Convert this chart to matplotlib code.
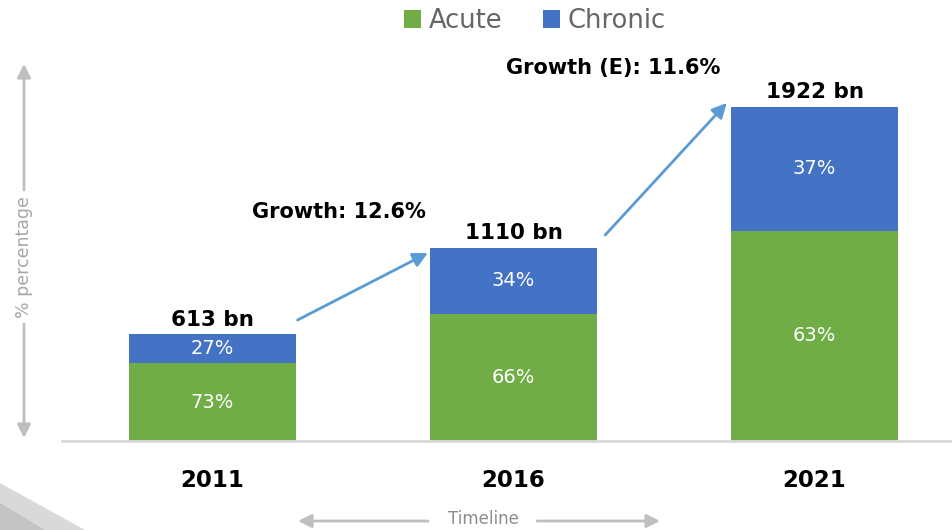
import numpy as np
import matplotlib.pyplot as plt
from matplotlib.patches import Polygon

# 数据
years = ['2011', '2016', '2021']
totals = [613, 1110, 1922]            # bn
acute_pct = [73, 66, 63]
chronic_pct = [27, 34, 37]
growth_labels = ['Growth: 12.6%', 'Growth (E): 11.6%']

green = '#70ad47'
blue = '#4472c4'
arrow_blue = '#5b9bd5'
gray_arrow = '#bfbfbf'

plt.rcParams['font.family'] = ['DejaVu Sans']

W, H = 953, 530
fig = plt.figure(figsize=(W / 100, H / 100), dpi=100)

# 坐标轴放在像素位置：底线 y=441px，左边 62px
left_px, base_px, top_px = 62, 441, 60
ax = fig.add_axes([left_px / W, (H - base_px) / H, (W - left_px) / W, (base_px - top_px) / H])

x = np.arange(len(years))
acute = np.array(totals) * np.array(acute_pct) / 100
chronic = np.array(totals) * np.array(chronic_pct) / 100
bw = 0.555

ax.bar(x, acute, bw, color=green, label='Acute', zorder=2)
ax.bar(x, chronic, bw, bottom=acute, color=blue, label='Chronic', zorder=2)

ax.set_xlim(-0.5, 2.46)
ax.set_ylim(0, 2192)

# 百分比标签
for i in range(len(years)):
    ax.text(x[i], acute[i] / 2, f'{acute_pct[i]}%', color='white', ha='center',
            va='center', fontsize=14)
    ax.text(x[i], acute[i] + chronic[i] / 2, f'{chronic_pct[i]}%', color='white',
            ha='center', va='center', fontsize=14)
    ax.text(x[i], totals[i] + 28, f'{totals[i]} bn', ha='center', va='bottom',
            fontsize=15.5, fontweight='bold', color='black')

# 增长箭头
starts = [(x[0] + bw / 2 + 0.005, totals[0] + 83), (x[1] + bw / 2 + 0.027, totals[1] + 75)]
ends = [(x[1] - bw / 2 - 0.007, totals[1] - 28), (x[2] - bw / 2 - 0.014, totals[2] + 23)]
for s, e in zip(starts, ends):
    ax.annotate('', xy=e, xytext=s,
                arrowprops=dict(arrowstyle='-|>', color=arrow_blue, lw=2,
                                mutation_scale=22, shrinkA=0, shrinkB=0))
ax.text(0.42, 1320, growth_labels[0], ha='center', va='center', fontsize=15,
        fontweight='bold')
ax.text(1.33, 2145, growth_labels[1], ha='center', va='center', fontsize=15,
        fontweight='bold')

# 轴样式
for sp in ['top', 'right', 'left']:
    ax.spines[sp].set_visible(False)
ax.spines['bottom'].set_color('#d9d9d9')
ax.spines['bottom'].set_linewidth(2)
ax.set_yticks([])
ax.set_xticks(x)
ax.set_xticklabels(years, fontsize=16.5, fontweight='bold')
ax.tick_params(axis='x', length=0, pad=20)

# 图例
ax.legend(loc='upper center', bbox_to_anchor=((535 - left_px) / (W - left_px), 1.197), ncol=2,
          frameon=False, fontsize=18.5, handlelength=0.65, handleheight=0.65,
          handletextpad=0.3, columnspacing=1.6, labelcolor='#666666')

# 左侧纵向箭头 "% percentage"
def fpt(px, py):
    return (px / W, 1 - py / H)

def gray_arrow_fig(p0, p1):
    ax.annotate('', xy=fpt(*p1), xytext=fpt(*p0), xycoords='figure fraction',
                textcoords='figure fraction',
                arrowprops=dict(arrowstyle='-|>', color=gray_arrow, lw=2,
                                mutation_scale=20, shrinkA=0, shrinkB=0))

gray_arrow_fig((24, 190), (24, 64))
gray_arrow_fig((24, 324), (24, 438))
fig.text(*fpt(24, 257), '% percentage', rotation=90, ha='center', va='center',
         fontsize=12.5, color='#a6a6a6')

# 底部横向箭头 "Timeline"
gray_arrow_fig((428, 521), (298, 521))
gray_arrow_fig((537, 521), (660, 521))
fig.text(*fpt(483, 519), 'Timeline', ha='center', va='center', fontsize=12,
         color='#8c8c8c')

# 左下角装饰
fig.patches.append(Polygon([fpt(0, 483), fpt(85, 530), fpt(0, 530)], closed=True,
                           transform=fig.transFigure, facecolor='#d9d9d9',
                           edgecolor='none', zorder=0))
fig.patches.append(Polygon([fpt(0, 503), fpt(45, 530), fpt(0, 530)], closed=True,
                           transform=fig.transFigure, facecolor='#c4c4c4',
                           edgecolor='none', zorder=0))

plt.savefig('out.png', dpi=100)
